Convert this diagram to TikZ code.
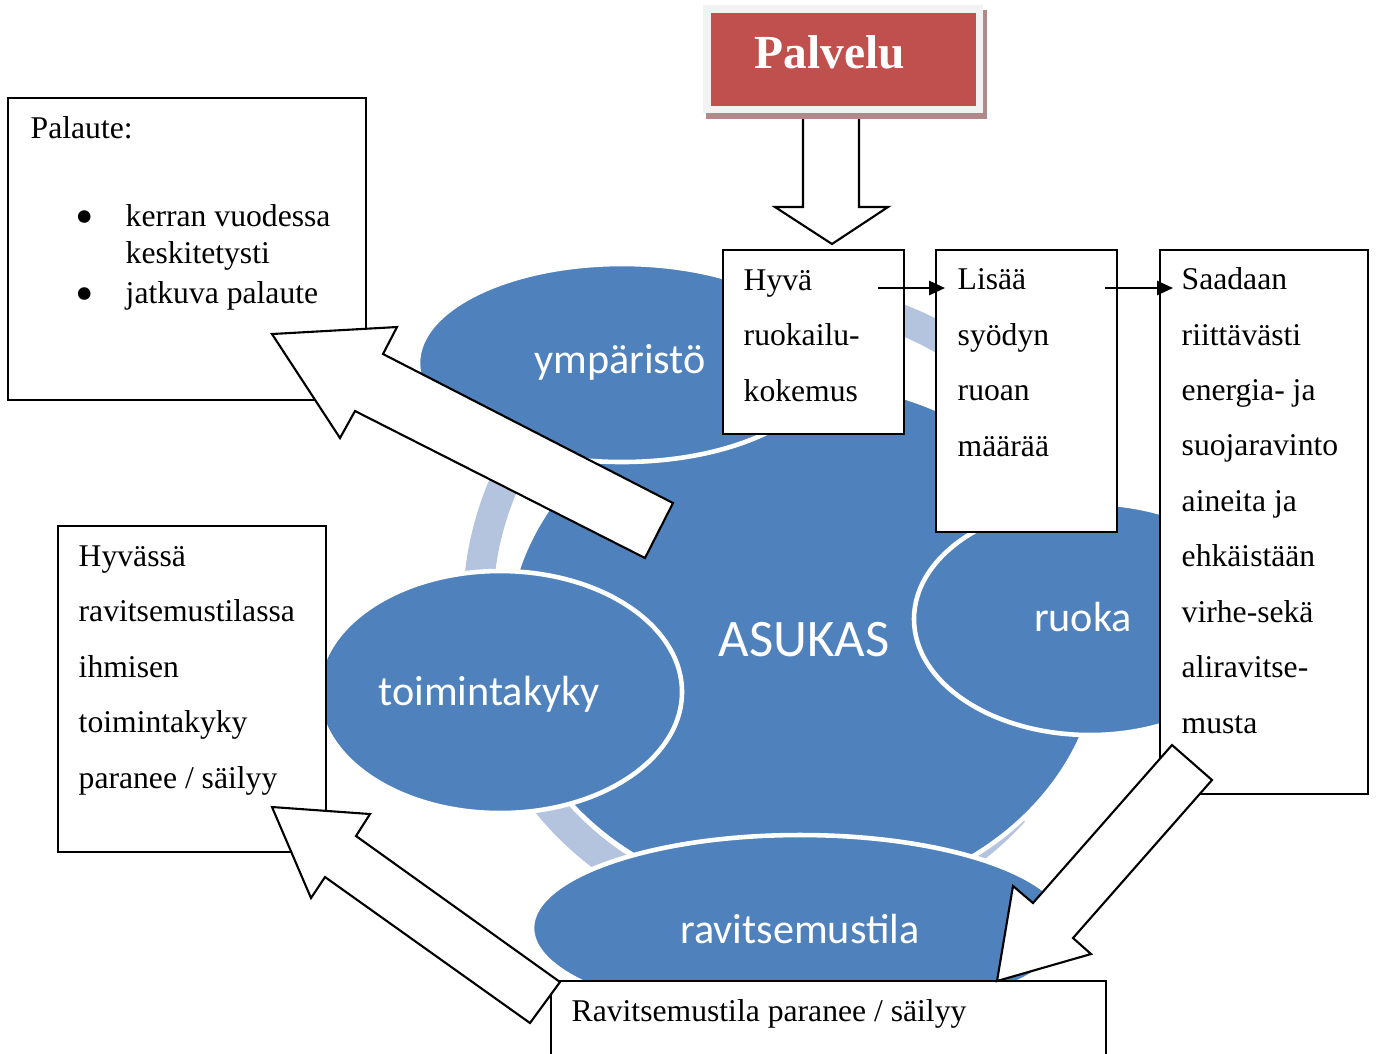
\documentclass[tikz,border=0pt]{standalone}
\usepackage{fontspec}
\setmainfont{Liberation Serif}
\newfontfamily\calibri{Carlito}
\usetikzlibrary{arrows.meta}

\definecolor{asblue}{RGB}{79,129,189}
\definecolor{ringblue}{RGB}{180,195,222}
\definecolor{palred}{RGB}{192,80,77}
\definecolor{palframe}{RGB}{242,242,242}
\definecolor{palshadow}{RGB}{176,138,138}

\tikzset{
  bubble/.style={fill=asblue, draw=white, line width=1.3pt},
  bubbletext/.style={text=white, inner sep=0pt, font=\calibri\fontsize{12}{14}\selectfont},
  ring/.style={draw=ringblue, line width=0.3cm},
  box/.style={draw=black, line width=0.6pt, fill=white},
  boxtext/.style={anchor=base west, inner sep=0pt, align=left, font=\fontsize{9}{15.76}\selectfont},
  fatarrow/.style={draw=black, line width=0.6pt, fill=white, line join=miter},
  flow/.style={-{Triangle[length=4.5pt,width=4pt]}, line width=0.6pt}
}

\begin{document}
\begin{tikzpicture}[x=0.01cm, y=-0.01cm]
\clip (0,0) rectangle (1376,1053);

% Cycle ring behind the bubbles
\draw[ring] (788,608) ++(-105:310) arc[start angle=-105, end angle=-25, radius=310];
\draw[ring] (788,608) ++(170:310) arc[start angle=170, end angle=215, radius=310];
\draw[ring] (788,608) ++(110:310) arc[start angle=110, end angle=150, radius=310];
\draw[ring] (788,608) ++(42:304) arc[start angle=42, end angle=80, radius=304];

% Centre and outer bubbles
\draw[bubble] (804,642) ellipse [x radius=298, y radius=260];
\draw[bubble] (622,363) ellipse [x radius=204, y radius=99];
\draw[bubble] (1090,619) ellipse [x radius=176, y radius=116];
\draw[bubble] (500,692) ellipse [x radius=182, y radius=121];
\draw[bubble] (800,928) ellipse [x radius=268, y radius=93];

% Bubble labels
\node[bubbletext, font=\calibri\fontsize{15}{18}\selectfont] (asukas) at (804,640) {ASUKAS};
\node[bubbletext] (ymparisto) at (620,362) {ympäristö};
\node[bubbletext] (ruoka) at (1083,617) {ruoka};
\node[bubbletext] (toimintakyky) at (489,694) {toimintakyky};
\node[bubbletext] (ravitsemustila) at (800,929) {ravitsemustila};

% Palvelu and its arrow
\draw[fatarrow] (803,110) -- (803,207) -- (775,207) -- (832,244) -- (888,207) -- (859,207) -- (859,110);
\fill[palshadow] (706,10) rectangle (987,119);
\fill[palframe] (703,5) rectangle (983,113);
\fill[palred] (711,13) rectangle (976,106);
\node[anchor=base, text=white, inner sep=0pt, font=\bfseries\fontsize{13.5}{16}\selectfont] (palvelu) at (830,68) {Palvelu};

% Text boxes
\draw[box] (723,250) rectangle (904,434);
\draw[box] (936,250) rectangle (1117,532);
\draw[box] (1160,250) rectangle (1368,794);
\draw[box] (8,98) rectangle (366,400);
\draw[box] (58,526) rectangle (326,852);
\draw[box] (551,981) rectangle (1106,1070);

% Box texts (base anchor sits on the last line)
\node[boxtext] (hyva) at (743,401) {Hyvä\\ruokailu-\\kokemus};
\node[boxtext] (lisaa) at (957,456) {Lisää\\syödyn\\ruoan\\määrää};
\node[boxtext] (saadaan) at (1181,733) {Saadaan\\riittävästi\\energia- ja\\suojaravinto\\aineita ja\\ehkäistään\\virhe-sekä\\aliravitse-\\musta};
\node[boxtext] (palaute) at (30,138) {Palaute:};
\node[boxtext, anchor=base, font=\fontsize{15}{16}\selectfont] (bullet1) at (85,234) {\textbullet};
\node[boxtext, font=\fontsize{9}{10.5}\selectfont] (kerran) at (125,263) {kerran vuodessa\\keskitetysti};
\node[boxtext, anchor=base, font=\fontsize{15}{16}\selectfont] (bullet2) at (85,311) {\textbullet};
\node[boxtext] (jatkuva) at (125,303) {jatkuva palaute};
\node[boxtext] (hyvassa) at (78,788) {Hyvässä\\ravitsemustilassa\\ihmisen\\toimintakyky\\paranee / säilyy};
\node[boxtext] (paranee) at (571,1021) {Ravitsemustila paranee / säilyy};

% Block arrows
\draw[fatarrow] (272,334) -- (397,327) -- (383,354) -- (673,503) -- (645,558) -- (355,411) -- (340,438) -- cycle;
\draw[fatarrow] (272,807) -- (370,814) -- (356,836) -- (560,982) -- (530,1023) -- (325,877) -- (311,898) -- cycle;
\draw[fatarrow] (1172,745) -- (1212,780) -- (1073,938) -- (1091,954) -- (997,981) -- (1013,886) -- (1033,903) -- cycle;

% Small arrows between the boxes
\coordinate (hyvaout) at (878,288);
\coordinate (lisaain) at (945,288);
\coordinate (lisaaout) at (1105,288);
\coordinate (saadaanin) at (1173,288);
\draw[flow] (hyvaout) -- (lisaain);
\draw[flow] (lisaaout) -- (saadaanin);

\end{tikzpicture}
\end{document}
